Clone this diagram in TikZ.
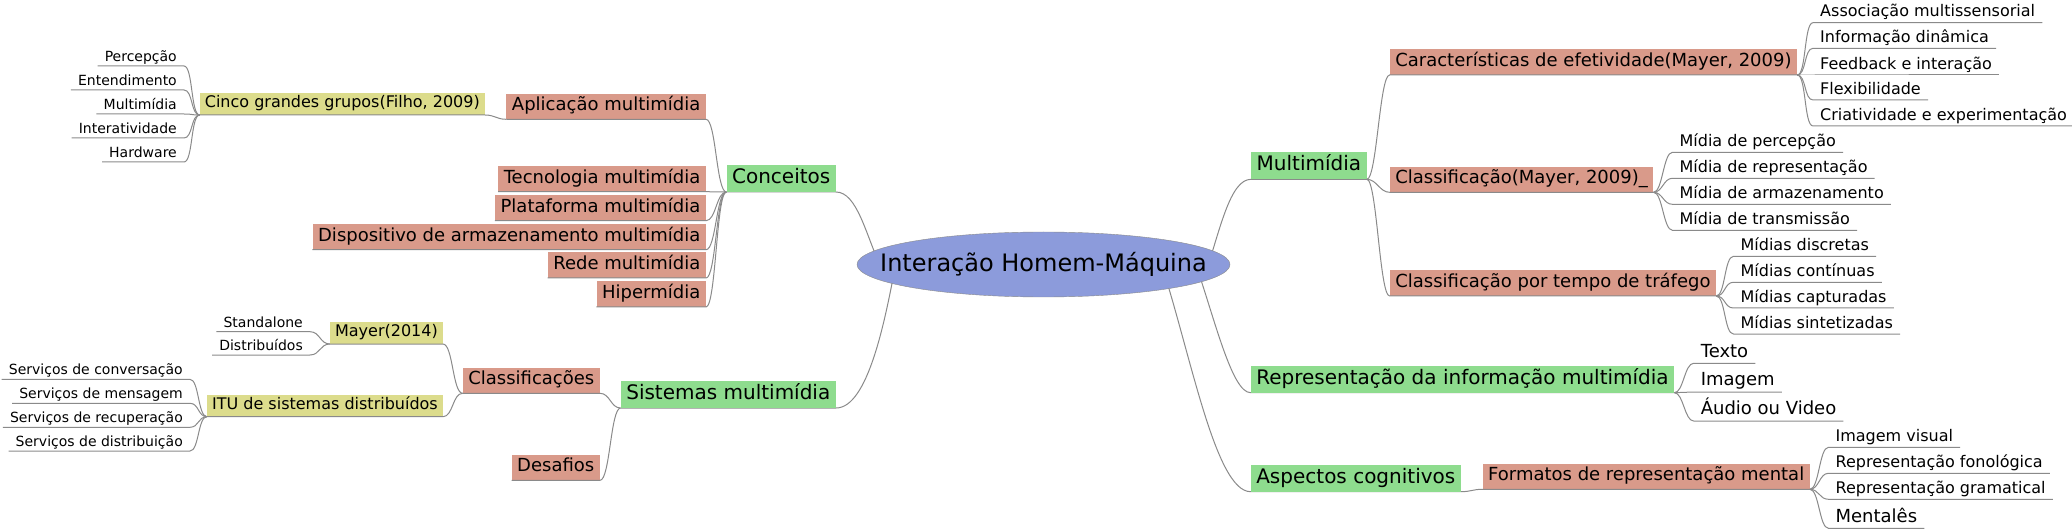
\documentclass[tikz,border=0pt]{standalone}
\usepackage{fontspec}
\setmainfont{DejaVu Sans}
\usetikzlibrary{shapes.geometric,backgrounds}

\definecolor{rootblue}{HTML}{8C9BDB}
\definecolor{topgreen}{HTML}{8EDC8E}
\definecolor{subred}{HTML}{D99A8A}
\definecolor{grpyellow}{HTML}{DCDC8C}
\definecolor{linegray}{HTML}{8A8A8A}

\tikzset{
  root/.style={ellipse, draw=linegray, fill=rootblue, minimum width=373pt, minimum height=65pt, inner xsep=-35pt, inner ysep=0pt, font=\fontsize{24}{28}\selectfont},
  topic/.style={fill=topgreen, inner xsep=5.5pt, inner ysep=3.5pt, text height=15pt, text depth=5pt, font=\fontsize{20}{24}\selectfont},
  sub/.style={fill=subred, inner xsep=5.5pt, inner ysep=3.75pt, text height=13.5pt, text depth=4.5pt, font=\fontsize{18}{22}\selectfont},
  grp/.style={fill=grpyellow, inner xsep=5pt, inner ysep=3pt, text height=12pt, text depth=4pt, font=\fontsize{16}{19}\selectfont},
  leaf/.style={inner xsep=7pt, inner ysep=1pt, text height=10.5pt, text depth=3.5pt, font=\fontsize{14}{17}\selectfont},
  rleaf/.style={leaf, inner ysep=1.5pt, text height=12pt, text depth=4pt, font=\fontsize{16}{19}\selectfont},
  bigleaf/.style={leaf, inner ysep=1.5pt, text height=13.5pt, text depth=4.5pt, font=\fontsize{18}{22}\selectfont},
  edge/.style={draw=linegray, line width=1pt},
}

\begin{document}
\begin{tikzpicture}[x=1pt, y=-1pt]
  \useasboundingbox (0,0) rectangle (2072,529);

  % centre
  \node[root] (root) at (1043.5,264.5) {Interação Homem-Máquina};
  \coordinate (rootc) at (880,265);
  \coordinate (roots) at (895,268);
  \coordinate (rootm) at (1205,275);
  \coordinate (rootr) at (1195,262);
  \coordinate (roota) at (1160,260);

  % left: Conceitos
  \node[topic, anchor=south east] (conceitos) at (836,192) {Conceitos};
  \node[sub, anchor=south east] (aplic) at (706,119.3) {Aplicação multimídia};
  \node[sub, anchor=south east] (tecno) at (706,191.7) {Tecnologia multimídia};
  \node[sub, anchor=south east] (plataf) at (706,220.7) {Plataforma multimídia};
  \node[sub, anchor=south east] (disp) at (706,249.7) {Dispositivo de armazenamento multimídia};
  \node[sub, anchor=south east] (rede) at (706,278) {Rede multimídia};
  \node[sub, anchor=south east] (hiper) at (706,307) {Hipermídia};
  \node[grp, anchor=south east] (cinco) at (485,115) {Cinco grandes grupos(Filho, 2009)};
  \node[leaf, anchor=south east] (percep) at (184,66) {Percepção};
  \node[leaf, anchor=south east] (entend) at (184,90) {Entendimento};
  \node[leaf, anchor=south east] (multi) at (184,114) {Multimídia};
  \node[leaf, anchor=south east] (inter) at (184,138) {Interatividade};
  \node[leaf, anchor=south east] (hard) at (184,162) {Hardware};

  % left: Sistemas multimidia
  \node[topic, anchor=south east] (sistemas) at (836,408) {Sistemas multimídia};
  \node[sub, anchor=south east] (classif) at (600,393.3) {Classificações};
  \node[sub, anchor=south east] (desafios) at (600,480.3) {Desafios};
  \node[grp, anchor=south east] (mayer) at (443,344) {Mayer(2014)};
  \node[grp, anchor=south east] (itu) at (443,416.7) {ITU de sistemas distribuídos};
  \node[leaf, anchor=south east] (stand) at (310,331.7) {Standalone};
  \node[leaf, anchor=south east] (distr) at (310,355) {Distribuídos};
  \node[leaf, anchor=south east] (conv) at (190,379.3) {Serviços de conversação};
  \node[leaf, anchor=south east] (mens) at (190,403.3) {Serviços de mensagem};
  \node[leaf, anchor=south east] (recup) at (190,427.3) {Serviços de recuperação};
  \node[leaf, anchor=south east] (distrib) at (190,451) {Serviços de distribuição};

  % right: Multimidia
  \node[topic, anchor=south west] (multimidia) at (1251,179.3) {Multimídia};
  \node[sub, anchor=south west] (caract) at (1389.6,75) {Características de efetividade(Mayer, 2009)};
  \node[sub, anchor=south west] (classmayer) at (1389.6,192.3) {Classificação(Mayer, 2009)\_};
  \node[sub, anchor=south west] (classtempo) at (1389.6,296) {Classificação por tempo de tráfego};
  \node[rleaf, anchor=south west] (assoc) at (1813,22.7) {Associação multissensorial};
  \node[rleaf, anchor=south west] (infodin) at (1813,48.3) {Informação dinâmica};
  \node[rleaf, anchor=south west] (feedb) at (1813,75) {Feedback e interação};
  \node[rleaf, anchor=south west] (flex) at (1813,100) {Flexibilidade};
  \node[rleaf, anchor=south west] (criat) at (1813,126) {Criatividade e experimentação};
  \node[rleaf, anchor=south west] (mpercep) at (1672.4,152.3) {Mídia de percepção};
  \node[rleaf, anchor=south west] (mrepres) at (1672.4,178.3) {Mídia de representação};
  \node[rleaf, anchor=south west] (marmaz) at (1672.4,204.3) {Mídia de armazenamento};
  \node[rleaf, anchor=south west] (mtransm) at (1672.4,230.3) {Mídia de transmissão};
  \node[rleaf, anchor=south west] (mdiscr) at (1733.4,256.3) {Mídias discretas};
  \node[rleaf, anchor=south west] (mcont) at (1733.4,282.3) {Mídias contínuas};
  \node[rleaf, anchor=south west] (mcapt) at (1733.4,308) {Mídias capturadas};
  \node[rleaf, anchor=south west] (msint) at (1733.4,334) {Mídias sintetizadas};

  % right: Representacao
  \node[topic, anchor=south west] (repinfo) at (1250.6,392.7) {Representação da informação multimídia};
  \node[bigleaf, anchor=south west] (texto) at (1693.6,363.3) {Texto};
  \node[bigleaf, anchor=south west] (imagem) at (1693.6,392) {Imagem};
  \node[bigleaf, anchor=south west] (audio) at (1693.6,421) {Áudio ou Video};

  % right: Aspectos cognitivos
  \node[topic, anchor=south west] (aspectos) at (1250.6,491.7) {Aspectos cognitivos};
  \node[sub, anchor=south west] (formatos) at (1482.5,489.3) {Formatos de representação mental};
  \node[rleaf, anchor=south west] (imgvis) at (1828.4,447.3) {Imagem visual};
  \node[rleaf, anchor=south west] (fonol) at (1828.4,473.3) {Representação fonológica};
  \node[rleaf, anchor=south west] (gramat) at (1828.4,499.3) {Representação gramatical};
  \node[bigleaf, anchor=south west] (mentales) at (1828.4,528.3) {Mentalês};

  % edges from the centre, hidden behind the ellipse
  \begin{scope}[on background layer]
    \draw[edge] (rootc) .. controls (866,235) and (857,192) .. (conceitos.south east) -- (conceitos.south west);
    \draw[edge] (roots) .. controls (885,320) and (868,408) .. (sistemas.south east) -- (sistemas.south west);
    \draw[edge] (rootm) .. controls (1220,230) and (1230,179.3) .. (multimidia.south west) -- (multimidia.south east);
    \draw[edge] (rootr) .. controls (1215,320) and (1232,392.7) .. (repinfo.south west) -- (repinfo.south east);
    \draw[edge] (roota) .. controls (1190,350) and (1215,491.7) .. (aspectos.south west) -- (aspectos.south east);
  \end{scope}

  % left edges
  \draw[edge] (conceitos.south west) .. controls +(-10,0) and +(10,0) .. (aplic.south east) -- (aplic.south west);
  \draw[edge] (conceitos.south west) .. controls +(-10,0) and +(10,0) .. (tecno.south east) -- (tecno.south west);
  \draw[edge] (conceitos.south west) .. controls +(-10,0) and +(10,0) .. (plataf.south east) -- (plataf.south west);
  \draw[edge] (conceitos.south west) .. controls +(-10,0) and +(10,0) .. (disp.south east) -- (disp.south west);
  \draw[edge] (conceitos.south west) .. controls +(-10,0) and +(10,0) .. (rede.south east) -- (rede.south west);
  \draw[edge] (conceitos.south west) .. controls +(-10,0) and +(10,0) .. (hiper.south east) -- (hiper.south west);
  \draw[edge] (aplic.south west) .. controls +(-10,0) and +(10,0) .. (cinco.south east) -- (cinco.south west);
  \draw[edge] (cinco.south west) .. controls +(-9,0) and +(9,0) .. (percep.south east) -- (percep.south west);
  \draw[edge] (cinco.south west) .. controls +(-9,0) and +(9,0) .. (entend.south east) -- (entend.south west);
  \draw[edge] (cinco.south west) .. controls +(-9,0) and +(9,0) .. (multi.south east) -- (multi.south west);
  \draw[edge] (cinco.south west) .. controls +(-9,0) and +(9,0) .. (inter.south east) -- (inter.south west);
  \draw[edge] (cinco.south west) .. controls +(-9,0) and +(9,0) .. (hard.south east) -- (hard.south west);

  \draw[edge] (sistemas.south west) .. controls +(-10,0) and +(10,0) .. (classif.south east) -- (classif.south west);
  \draw[edge] (sistemas.south west) .. controls +(-10,0) and +(10,0) .. (desafios.south east) -- (desafios.south west);
  \draw[edge] (classif.south west) .. controls +(-10,0) and +(10,0) .. (mayer.south east) -- (mayer.south west);
  \draw[edge] (classif.south west) .. controls +(-10,0) and +(10,0) .. (itu.south east) -- (itu.south west);
  \draw[edge] (mayer.south west) .. controls +(-10,0) and +(10,0) .. (stand.south east) -- (stand.south west);
  \draw[edge] (mayer.south west) .. controls +(-10,0) and +(10,0) .. (distr.south east) -- (distr.south west);
  \draw[edge] (itu.south west) .. controls +(-9,0) and +(9,0) .. (conv.south east) -- (conv.south west);
  \draw[edge] (itu.south west) .. controls +(-9,0) and +(9,0) .. (mens.south east) -- (mens.south west);
  \draw[edge] (itu.south west) .. controls +(-9,0) and +(9,0) .. (recup.south east) -- (recup.south west);
  \draw[edge] (itu.south west) .. controls +(-9,0) and +(9,0) .. (distrib.south east) -- (distrib.south west);

  % right edges
  \draw[edge] (multimidia.south east) .. controls +(10,0) and +(-10,0) .. (caract.south west) -- (caract.south east);
  \draw[edge] (multimidia.south east) .. controls +(10,0) and +(-10,0) .. (classmayer.south west) -- (classmayer.south east);
  \draw[edge] (multimidia.south east) .. controls +(10,0) and +(-10,0) .. (classtempo.south west) -- (classtempo.south east);
  \draw[edge] (caract.south east) .. controls +(9,0) and +(-9,0) .. (assoc.south west) -- (assoc.south east);
  \draw[edge] (caract.south east) .. controls +(9,0) and +(-9,0) .. (infodin.south west) -- (infodin.south east);
  \draw[edge] (caract.south east) .. controls +(9,0) and +(-9,0) .. (feedb.south west) -- (feedb.south east);
  \draw[edge] (caract.south east) .. controls +(9,0) and +(-9,0) .. (flex.south west) -- (flex.south east);
  \draw[edge] (caract.south east) .. controls +(9,0) and +(-9,0) .. (criat.south west) -- (criat.south east);
  \draw[edge] (classmayer.south east) .. controls +(9,0) and +(-9,0) .. (mpercep.south west) -- (mpercep.south east);
  \draw[edge] (classmayer.south east) .. controls +(9,0) and +(-9,0) .. (mrepres.south west) -- (mrepres.south east);
  \draw[edge] (classmayer.south east) .. controls +(9,0) and +(-9,0) .. (marmaz.south west) -- (marmaz.south east);
  \draw[edge] (classmayer.south east) .. controls +(9,0) and +(-9,0) .. (mtransm.south west) -- (mtransm.south east);
  \draw[edge] (classtempo.south east) .. controls +(9,0) and +(-9,0) .. (mdiscr.south west) -- (mdiscr.south east);
  \draw[edge] (classtempo.south east) .. controls +(9,0) and +(-9,0) .. (mcont.south west) -- (mcont.south east);
  \draw[edge] (classtempo.south east) .. controls +(9,0) and +(-9,0) .. (mcapt.south west) -- (mcapt.south east);
  \draw[edge] (classtempo.south east) .. controls +(9,0) and +(-9,0) .. (msint.south west) -- (msint.south east);

  \draw[edge] (repinfo.south east) .. controls +(9,0) and +(-9,0) .. (texto.south west) -- (texto.south east);
  \draw[edge] (repinfo.south east) .. controls +(9,0) and +(-9,0) .. (imagem.south west) -- (imagem.south east);
  \draw[edge] (repinfo.south east) .. controls +(9,0) and +(-9,0) .. (audio.south west) -- (audio.south east);

  \draw[edge] (aspectos.south east) .. controls +(10,0) and +(-10,0) .. (formatos.south west) -- (formatos.south east);
  \draw[edge] (formatos.south east) .. controls +(9,0) and +(-9,0) .. (imgvis.south west) -- (imgvis.south east);
  \draw[edge] (formatos.south east) .. controls +(9,0) and +(-9,0) .. (fonol.south west) -- (fonol.south east);
  \draw[edge] (formatos.south east) .. controls +(9,0) and +(-9,0) .. (gramat.south west) -- (gramat.south east);
  \draw[edge] (formatos.south east) .. controls +(9,0) and +(-9,0) .. (mentales.south west) -- (mentales.south east);
\end{tikzpicture}
\end{document}
